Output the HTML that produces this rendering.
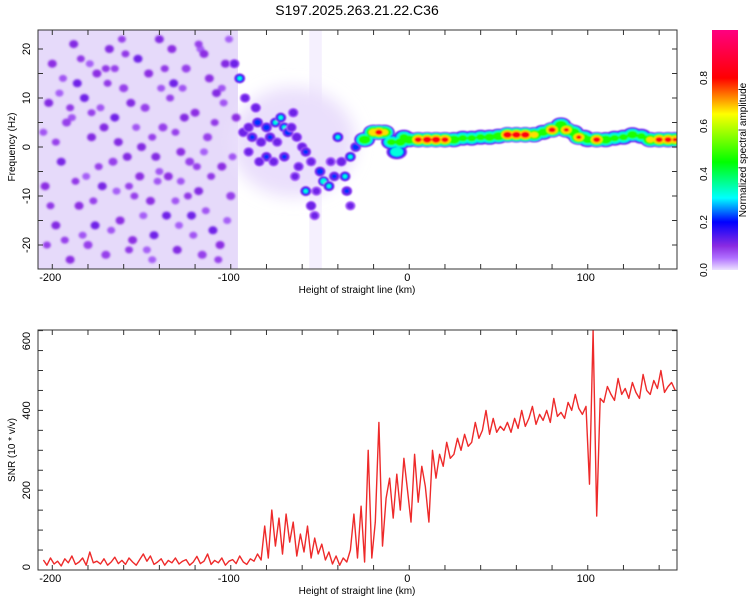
<!DOCTYPE html>
<html><head><meta charset="utf-8"><style>
body{margin:0;background:#fff;}
svg{display:block;font-family:"Liberation Sans",sans-serif;}
</style></head><body>
<svg id="fig" width="750" height="600" viewBox="0 0 750 600">
<defs>
<filter id="soft" x="-50%" y="-50%" width="200%" height="200%"><feGaussianBlur stdDeviation="1"/></filter>
<filter id="soft2" x="-50%" y="-50%" width="200%" height="200%"><feGaussianBlur stdDeviation="0.7"/></filter>
<filter id="soft3" x="-50%" y="-50%" width="200%" height="200%"><feGaussianBlur stdDeviation="8"/></filter>
<clipPath id="clipTop"><rect x="38" y="30" width="639" height="239"/></clipPath>
<clipPath id="clipBot"><rect x="38" y="330" width="639" height="240"/></clipPath>
<linearGradient id="cbar" x1="0" y1="1" x2="0" y2="0">
<stop offset="0" stop-color="#ece2ff"/><stop offset="0.05" stop-color="#b070ff"/><stop offset="0.1" stop-color="#8a2be2"/>
<stop offset="0.2" stop-color="#0000ff"/><stop offset="0.3" stop-color="#00ffff"/><stop offset="0.45" stop-color="#00ff00"/>
<stop offset="0.65" stop-color="#ffff00"/><stop offset="0.8" stop-color="#ff0000"/><stop offset="1" stop-color="#ff0080"/>
</linearGradient>
</defs>
<text x="357" y="15" text-anchor="middle" font-size="14">S197.2025.263.21.22.C36</text>
<g id="topPanel"></g>
<g id="botPanel"></g>
<g id="cb"></g>
</svg>
<script>
// ---- data ----
const ridgeKm  = [-25,-20,-17,-14,-10,-7,-5,-3,0,5,10,15,20,25,30,35,40,45,50,55,60,65,70,75,80,85,88,92,95,98,100,105,110,115,120,125,130,135,140,145,149];
const ridgeHz  = [1.5,3,3,3,1,-1,1,2,1.5,1.5,1.5,1.5,1.5,1.5,1.8,1.8,2,2,2.2,2.5,2.5,2.5,2.5,3,3.5,4.5,3.5,3,2,2,1.5,1.5,1.5,1.8,2,2.5,2.2,1.5,1.5,1.5,1.5];
const ridgeAmp = [0.6,0.75,0.85,0.7,0.5,0.4,0.55,0.5,0.6,0.85,0.9,0.9,0.85,0.6,0.5,0.5,0.5,0.55,0.6,0.9,0.9,0.9,0.7,0.55,0.85,0.6,0.8,0.6,0.8,0.5,0.55,0.85,0.6,0.5,0.5,0.55,0.5,0.7,0.85,0.85,0.8];
const blobKm  = [-95,-93,-90,-88,-85,-83,-80,-78,-75,-72,-70,-68,-65,-63,-80,-76,-70,-60,-58,-55,-50,-48,-45,-42,-40,-38,-36,-35,-33,-33,-30,-58,-55,-53,-98,-92,-86,-66,-62,-90,-84,-74,-64,-52,-44];
const blobHz  = [14,3,4,2,5,1,4,2,5,6,4,3,7,2,-2,-3,-2,0,-1,-3,-5,-7,-8,-6,2,-3,-6,-9,-12,-2,0,-9,-12,-14,17,10,8,4,-4,-1,-3,1,-6,-9,-3];
const blobAmp = [0.3,0.15,0.15,0.2,0.25,0.15,0.25,0.2,0.3,0.3,0.3,0.25,0.12,0.15,0.2,0.12,0.2,0.15,0.2,0.12,0.25,0.35,0.3,0.2,0.3,0.15,0.3,0.2,0.1,0.3,0.25,0.3,0.15,0.1,0.12,0.12,0.14,0.14,0.12,0.12,0.14,0.12,0.1,0.1,0.1];
const noiseKm = [-200,-195,-192,-188,-185,-182,-180,-178,-175,-172,-170,-168,-165,-162,-160,-158,-155,-152,-150,-148,-145,-143,-140,-138,-135,-132,-130,-128,-125,-122,-120,-118,-115,-113,-110,-108,-105,-103,-100,-198,-190,-176,-166,-156,-146,-136,-126,-116,-106,-202,-204,-186,-142,-112,-123,-163,-133,-97,-171,-151];
const noiseHz = [17,-3,5,21,-12,10,-20,2,15,-8,-22,20,6,-15,12,-2,-19,18,0,8,-11,-18,22,4,-6,13,-21,-1,16,-14,7,-9,19,2,-17,11,-4,17,-10,-16,-23,-16,-3,9,15,-14,6,-22,-20,9,-8,13,-2,14,-3,1,20,6,4,-6];
const noiseAmp = [0.14,0.16,0.12,0.15,0.14,0.17,0.12,0.15,0.14,0.16,0.12,0.15,0.17,0.14,0.12,0.15,0.14,0.17,0.15,0.12,0.14,0.17,0.15,0.12,0.14,0.17,0.15,0.14,0.12,0.17,0.14,0.15,0.14,0.12,0.17,0.15,0.14,0.15,0.12,0.15,0.14,0.17,0.12,0.15,0.14,0.17,0.15,0.12,0.14,0.15,0.14,0.17,0.15,0.14,0.12,0.15,0.14,0.14,0.15,0.14];
const noiseKm2 = [-205,-201,-196,-193,-189,-184,-181,-177,-173,-169,-164,-161,-157,-153,-149,-144,-141,-137,-134,-129,-127,-124,-119,-117,-114,-109,-107,-104,-101,-99,-203,-194,-187,-179,-174,-167,-159,-154,-147,-139,-131,-121,-111,-102,-198,-183,-170,-157,-144,-131,-118,-105,-190,-165,-140,-115,-178,-128];
const noiseHz2 = [3,-12,11,-19,6,18,-6,-11,8,13,-9,22,-21,4,-14,2,-7,16,10,-16,12,-10,-4,20,-13,5,-23,9,22,-2,-20,14,-7,17,-4,-17,19,-10,-21,12,3,-18,-6,-15,1,-18,16,-8,-23,-11,21,12,8,16,-5,-1,7,-7];
const noiseAmp2 = [0.1,0.13,0.09,0.12,0.1,0.13,0.09,0.12,0.1,0.13,0.09,0.12,0.13,0.1,0.09,0.12,0.1,0.13,0.12,0.09,0.1,0.13,0.12,0.09,0.1,0.13,0.12,0.1,0.09,0.1,0.12,0.1,0.13,0.09,0.12,0.1,0.13,0.12,0.09,0.1,0.12,0.1,0.13,0.09,0.12,0.1,0.13,0.12,0.09,0.1,0.12,0.1,0.13,0.12,0.1,0.09,0.12,0.1];
const snrStartKm = -205;
const snrStepKm = 2;
const snrValues = [
25,12,30,15,22, 10,28,18,35,14, 20,30,12,45,18, 22,15,28,12,20, 32,16,24,14,30, 20,12,26,40,22,
35,14,20,28,12, 24,18,30,15,22, 26,12,20,34,16, 22,40,14,24,18, 30,12,22,26,16, 35,20,14,28,22,
40,25,110,30,150, 60,130,40,140,70, 120,35,90,45,110, 30,80,40,65,25, 45,15,35,12,30, 20,50,140,30,160,
20,300,30,120,370, 60,180,230,130,240, 150,280,200,120,290, 170,260,210,120,300, 230,290,260,320,280,
290,330,300,340,310, 320,370,330,350,400, 340,380,345,360,350, 370,345,380,355,400, 360,380,410,365,390,
375,400,370,430,385, 395,380,420,400,440, 405,390,410,215,600, 135,430,420,460,440, 425,480,440,455,430,
470,445,430,490,450, 440,475,455,500,445, 460,470,450];
const xTicks = [-200,-100,0,100];
const hzTicks = [-20,-10,0,10,20];
const snrTicks = [0,200,400,600];
const cbTicks = [0.0,0.2,0.4,0.6,0.8];

// ---- scales ----
const PL=38, PR=677;
const xs = km => PL + (km - (-208)) / (150 - (-208)) * (PR - PL);
const yHz = hz => 147 - hz * 4.9;
const ySnr = v => 570 - v * 0.399;
const NS="http://www.w3.org/2000/svg";
function mk(tag, attrs, parent){const e=document.createElementNS(NS,tag);for(const k in attrs)e.setAttribute(k,attrs[k]);parent.appendChild(e);return e;}
const stops=[[0,[236,226,255]],[0.05,[176,112,255]],[0.1,[138,43,226]],[0.2,[0,0,255]],[0.3,[0,255,255]],[0.45,[0,255,0]],[0.65,[255,255,0]],[0.8,[255,0,0]],[1,[255,0,128]]];
function cmap(v){for(let i=1;i<stops.length;i++){if(v<=stops[i][0]){const a=stops[i-1],b=stops[i],t=(v-a[0])/(b[0]-a[0]);return 'rgb('+a[1].map((c,j)=>Math.round(c+(b[1][j]-c)*t)).join(',')+')';}}return 'rgb(255,0,128)';}
const levels=[0.04,0.1,0.2,0.3,0.45,0.65,0.8];
const NOISE_SCALE=0.7;

// ---- top panel ----
const topG=document.getElementById('topPanel');
const tg=mk('g',{'clip-path':'url(#clipTop)'},topG);


mk('rect',{x:xs(-208),y:30,width:xs(-96)-xs(-208),height:239,fill:'#e6dafa'},tg);
mk('rect',{x:xs(-56),y:30,width:xs(-49)-xs(-56),height:239,fill:'#f5f0fe'},tg);
mk('ellipse',{cx:xs(-65),cy:yHz(1),rx:xs(-30)-xs(-65),ry:55,fill:'#eadffc',filter:'url(#soft3)'},tg);
const ng=mk('g',{filter:'url(#soft)'},tg);
for(let i=0;i<noiseKm2.length;i++){
  const c=mk('ellipse',{cx:xs(noiseKm2[i]),cy:yHz(noiseHz2[i]),rx:4,ry:3.5,fill:cmap(noiseAmp2[i]*NOISE_SCALE)},ng);
  
  
}
for(let i=0;i<noiseKm.length;i++){
  const c=mk('ellipse',{cx:xs(noiseKm[i]),cy:yHz(noiseHz[i]),rx:4.5,ry:4,fill:cmap(noiseAmp[i]*NOISE_SCALE)},ng);
  
  
}
function drawPeak(g,km,hz,amp,rx,ry){
  for(const L of levels){ if(L>amp) break;
    const f=Math.sqrt(1-L/(amp+0.05));
    const e=mk('ellipse',{cx:xs(km),cy:yHz(hz),rx:rx*f,ry:ry*f,fill:cmap(L+0.02)},g);
    
    
  }
}
const bg=mk('g',{filter:'url(#soft2)'},tg);
for(let i=0;i<blobKm.length;i++) drawPeak(bg,blobKm[i],blobHz[i],blobAmp[i],6,5.5);
const rg=mk('g',{filter:'url(#soft2)'},tg);
for(const L of levels){
  for(let i=0;i<ridgeKm.length;i++){
    const amp=ridgeAmp[i]; if(L>amp) continue;
    const f=Math.sqrt(1-L/(amp+0.05));
    const e=mk('ellipse',{cx:xs(ridgeKm[i]),cy:yHz(ridgeHz[i]),rx:11*f,ry:8*f,fill:cmap(L+0.02)},rg);
    
    
  }
}
function frame(g,y0,y1){
  mk('rect',{x:PL,y:y0,width:PR-PL,height:y1-y0,fill:'none',stroke:'#333','stroke-width':1},g);
  for(let km=-200;km<=140;km+=20){const x=xs(km);
    mk('line',{x1:x,y1:y0,x2:x,y2:y0+5,stroke:'#333'},g);mk('line',{x1:x,y1:y1,x2:x,y2:y1-5,stroke:'#333'},g);}
  xTicks.forEach(km=>{const t=mk('text',{x:xs(km)-2,y:y1+12,'text-anchor':'middle','font-size':11},g);t.textContent=km;
    });
  const xl=mk('text',{x:357,y:y1+24,'text-anchor':'middle','font-size':10},g);xl.textContent='Height of straight line (km)';
  
}
frame(topG,30,269);
for(let hz=-20;hz<=20;hz+=5){const y=yHz(hz);
  mk('line',{x1:PL,y1:y,x2:PL+5,y2:y,stroke:'#333'},topG);mk('line',{x1:PR,y1:y,x2:PR-5,y2:y,stroke:'#333'},topG);}
hzTicks.forEach(h=>{const t=mk('text',{x:30,y:yHz(h),'text-anchor':'middle','font-size':11,transform:'rotate(-90 30 '+yHz(h)+')'},topG);t.textContent=h;
  });
const yl=mk('text',{x:15,y:147,'text-anchor':'middle','font-size':10,transform:'rotate(-90 15 147)'},topG);yl.textContent='Frequency (Hz)';


// ---- bottom panel ----
const botG=document.getElementById('botPanel');
const pts=snrValues.map((v,i)=>xs(snrStartKm+i*snrStepKm).toFixed(1)+','+ySnr(v).toFixed(1)).join(' ');
const pl=mk('polyline',{points:pts,fill:'none',stroke:'#ee2a2a','stroke-width':1.4,'clip-path':'url(#clipBot)','stroke-linejoin':'round'},botG);


frame(botG,330,570);
for(let v=0;v<=600;v+=50){const y=ySnr(v);
  mk('line',{x1:PL,y1:y,x2:PL+5,y2:y,stroke:'#333'},botG);mk('line',{x1:PR,y1:y,x2:PR-5,y2:y,stroke:'#333'},botG);}
snrTicks.forEach(v=>{const y=Math.max(ySnr(v),341);const yy=v===0?ySnr(v)-3:y;const t=mk('text',{x:30,y:yy,'text-anchor':'middle','font-size':11,transform:'rotate(-90 30 '+yy+')'},botG);t.textContent=v;
  });
const yl2=mk('text',{x:15,y:450,'text-anchor':'middle','font-size':10,transform:'rotate(-90 15 450)'},botG);yl2.textContent='SNR (10 * v/v)';


// ---- colorbar ----
const cb=document.getElementById('cb');
const cr=mk('rect',{x:712,y:30,width:26,height:240,fill:'url(#cbar)'},cb);

cbTicks.forEach(v=>{const y=270-v*240;const t=mk('text',{x:707,y:y,'text-anchor':'middle','font-size':10,transform:'rotate(-90 707 '+y+')'},cb);t.textContent=v.toFixed(1);
  });
const ct=mk('text',{x:746,y:150,'text-anchor':'middle','font-size':10,transform:'rotate(-90 746 150)'},cb);ct.textContent='Normalized spectral amplitude';

</script>
</body></html>
